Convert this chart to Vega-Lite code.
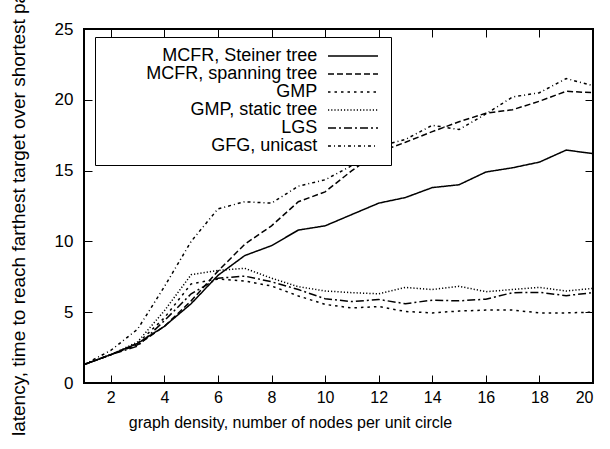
{
  "$schema": "https://vega.github.io/schema/vega-lite/v6.json",
  "autosize": {"type": "none"},
  "padding": {"left": 84, "top": 29, "right": 17, "bottom": 66},
  "width": 509,
  "height": 354,
  "background": "white",
  "config": {
    "font": "Liberation Sans",
    "view": {"stroke": "black", "strokeWidth": 2},
    "axis": {"labelFont": "Liberation Sans", "titleFont": "Liberation Sans", "labelColor": "black", "titleColor": "black", "grid": false, "domain": false, "tickColor": "black", "tickWidth": 1, "titleFontWeight": "normal"}
  },
  "datasets": {
    "d": [
      {"x":1,"s":"MCFR, Steiner tree","y":1.3},{"x":2,"s":"MCFR, Steiner tree","y":2.0},{"x":3,"s":"MCFR, Steiner tree","y":2.8},{"x":4,"s":"MCFR, Steiner tree","y":4.0},{"x":5,"s":"MCFR, Steiner tree","y":5.6},{"x":6,"s":"MCFR, Steiner tree","y":7.6},{"x":7,"s":"MCFR, Steiner tree","y":9.0},{"x":8,"s":"MCFR, Steiner tree","y":9.7},{"x":9,"s":"MCFR, Steiner tree","y":10.8},{"x":10,"s":"MCFR, Steiner tree","y":11.1},{"x":11,"s":"MCFR, Steiner tree","y":11.9},{"x":12,"s":"MCFR, Steiner tree","y":12.7},{"x":13,"s":"MCFR, Steiner tree","y":13.1},{"x":14,"s":"MCFR, Steiner tree","y":13.8},{"x":15,"s":"MCFR, Steiner tree","y":14.0},{"x":16,"s":"MCFR, Steiner tree","y":14.9},{"x":17,"s":"MCFR, Steiner tree","y":15.2},{"x":18,"s":"MCFR, Steiner tree","y":15.6},{"x":19,"s":"MCFR, Steiner tree","y":16.45},{"x":20,"s":"MCFR, Steiner tree","y":16.2},
      {"x":1,"s":"MCFR, spanning tree","y":1.3},{"x":2,"s":"MCFR, spanning tree","y":2.0},{"x":3,"s":"MCFR, spanning tree","y":2.7},{"x":4,"s":"MCFR, spanning tree","y":4.0},{"x":5,"s":"MCFR, spanning tree","y":5.8},{"x":6,"s":"MCFR, spanning tree","y":7.9},{"x":7,"s":"MCFR, spanning tree","y":9.8},{"x":8,"s":"MCFR, spanning tree","y":11.1},{"x":9,"s":"MCFR, spanning tree","y":12.8},{"x":10,"s":"MCFR, spanning tree","y":13.5},{"x":11,"s":"MCFR, spanning tree","y":15.0},{"x":12,"s":"MCFR, spanning tree","y":16.3},{"x":13,"s":"MCFR, spanning tree","y":17.0},{"x":14,"s":"MCFR, spanning tree","y":17.75},{"x":15,"s":"MCFR, spanning tree","y":18.45},{"x":16,"s":"MCFR, spanning tree","y":19.05},{"x":17,"s":"MCFR, spanning tree","y":19.3},{"x":18,"s":"MCFR, spanning tree","y":19.9},{"x":19,"s":"MCFR, spanning tree","y":20.6},{"x":20,"s":"MCFR, spanning tree","y":20.5},
      {"x":1,"s":"GMP","y":1.3},{"x":2,"s":"GMP","y":2.0},{"x":3,"s":"GMP","y":2.8},{"x":4,"s":"GMP","y":4.6},{"x":5,"s":"GMP","y":7.0},{"x":6,"s":"GMP","y":7.35},{"x":7,"s":"GMP","y":7.2},{"x":8,"s":"GMP","y":6.85},{"x":9,"s":"GMP","y":6.15},{"x":10,"s":"GMP","y":5.55},{"x":11,"s":"GMP","y":5.3},{"x":12,"s":"GMP","y":5.4},{"x":13,"s":"GMP","y":5.05},{"x":14,"s":"GMP","y":4.95},{"x":15,"s":"GMP","y":5.08},{"x":16,"s":"GMP","y":5.15},{"x":17,"s":"GMP","y":5.15},{"x":18,"s":"GMP","y":4.95},{"x":19,"s":"GMP","y":4.95},{"x":20,"s":"GMP","y":5.0},
      {"x":1,"s":"GMP, static tree","y":1.3},{"x":2,"s":"GMP, static tree","y":2.0},{"x":3,"s":"GMP, static tree","y":2.9},{"x":4,"s":"GMP, static tree","y":5.1},{"x":5,"s":"GMP, static tree","y":7.65},{"x":6,"s":"GMP, static tree","y":7.95},{"x":7,"s":"GMP, static tree","y":8.1},{"x":8,"s":"GMP, static tree","y":7.4},{"x":9,"s":"GMP, static tree","y":6.8},{"x":10,"s":"GMP, static tree","y":6.5},{"x":11,"s":"GMP, static tree","y":6.38},{"x":12,"s":"GMP, static tree","y":6.3},{"x":13,"s":"GMP, static tree","y":6.75},{"x":14,"s":"GMP, static tree","y":6.6},{"x":15,"s":"GMP, static tree","y":6.83},{"x":16,"s":"GMP, static tree","y":6.45},{"x":17,"s":"GMP, static tree","y":6.6},{"x":18,"s":"GMP, static tree","y":6.75},{"x":19,"s":"GMP, static tree","y":6.5},{"x":20,"s":"GMP, static tree","y":6.68},
      {"x":1,"s":"LGS","y":1.3},{"x":2,"s":"LGS","y":2.0},{"x":3,"s":"LGS","y":2.6},{"x":4,"s":"LGS","y":4.4},{"x":5,"s":"LGS","y":6.3},{"x":6,"s":"LGS","y":7.4},{"x":7,"s":"LGS","y":7.55},{"x":8,"s":"LGS","y":7.15},{"x":9,"s":"LGS","y":6.6},{"x":10,"s":"LGS","y":5.95},{"x":11,"s":"LGS","y":5.75},{"x":12,"s":"LGS","y":5.9},{"x":13,"s":"LGS","y":5.6},{"x":14,"s":"LGS","y":5.85},{"x":15,"s":"LGS","y":5.8},{"x":16,"s":"LGS","y":5.92},{"x":17,"s":"LGS","y":6.38},{"x":18,"s":"LGS","y":6.4},{"x":19,"s":"LGS","y":6.17},{"x":20,"s":"LGS","y":6.38},
      {"x":1,"s":"GFG, unicast","y":1.3},{"x":2,"s":"GFG, unicast","y":2.3},{"x":3,"s":"GFG, unicast","y":3.8},{"x":4,"s":"GFG, unicast","y":6.8},{"x":5,"s":"GFG, unicast","y":10.0},{"x":6,"s":"GFG, unicast","y":12.3},{"x":7,"s":"GFG, unicast","y":12.8},{"x":8,"s":"GFG, unicast","y":12.7},{"x":9,"s":"GFG, unicast","y":13.9},{"x":10,"s":"GFG, unicast","y":14.35},{"x":11,"s":"GFG, unicast","y":15.35},{"x":12,"s":"GFG, unicast","y":16.7},{"x":13,"s":"GFG, unicast","y":17.2},{"x":14,"s":"GFG, unicast","y":18.2},{"x":15,"s":"GFG, unicast","y":17.9},{"x":16,"s":"GFG, unicast","y":19.0},{"x":17,"s":"GFG, unicast","y":20.2},{"x":18,"s":"GFG, unicast","y":20.5},{"x":19,"s":"GFG, unicast","y":21.5},{"x":20,"s":"GFG, unicast","y":21.0}
    ]
  },
  "data": {"name": "d"},
  "resolve": {"axis": {"x": "independent", "y": "independent"}},
  "layer": [
    {
      "mark": {"type": "line", "color": "black", "strokeWidth": 1.5},
      "encoding": {
        "x": {"field": "x", "type": "quantitative", "scale": {"domain": [1, 20], "nice": false, "zero": false},
          "axis": {"orient": "bottom", "values": [2,4,6,8,10,12,14,16,18,20], "tickSize": -8, "labelPadding": 14, "labelFontSize": 16, "title": "graph density, number of nodes per unit circle", "titleFontSize": 16, "titleX": 206, "titleY": 44, "titleBaseline": "alphabetic", "titleAnchor": null}},
        "y": {"field": "y", "type": "quantitative", "scale": {"domain": [0, 25], "nice": false},
          "axis": {"orient": "left", "values": [0,5,10,15,20,25], "tickSize": -8, "labelPadding": 19, "labelFontSize": 17, "title": "latency, time to reach farthest target over shortest path", "titleFontSize": 19, "titleX": -60, "titleY": 177, "titleBaseline": "alphabetic", "titleAngle": -90}},
        "strokeDash": {"field": "s", "type": "nominal",
          "scale": {"domain": ["MCFR, Steiner tree","MCFR, spanning tree","GMP","GMP, static tree","LGS","GFG, unicast"],
                    "range": [[1,0],[6,3],[2.5,4],[1.2,2],[8,3,2,3],[3,3,1,3]]},
          "legend": {"title": null, "orient": "none", "legendX": 11, "legendY": 8, "direction": "vertical", "symbolType": "M -5 0 L 5 0", "symbolSize": 100, "symbolStrokeWidth": 1.5, "symbolStrokeColor": "black", "rowPadding": 0, "padding": 10, "strokeColor": "black", "fillColor": "white", "labelAlign": "right", "labelBaseline": "middle", "labelOffset": -44.75, "symbolOffset": 239, "labelLimit": 400, "labelFontSize": 18, "labelFont": "Liberation Sans", "labelColor": "black"}}
      }
    },
    {
      "mark": {"type": "line", "strokeOpacity": 0},
      "encoding": {
        "detail": {"field": "s"},
        "x": {"field": "x", "type": "quantitative", "axis": {"orient": "top", "values": [2,4,6,8,10,12,14,16,18], "tickSize": -8, "labels": false, "title": null}},
        "y": {"field": "y", "type": "quantitative", "axis": {"orient": "right", "values": [5,10,15,20], "tickSize": -8, "labels": false, "title": null}}
      }
    }
  ]
}
